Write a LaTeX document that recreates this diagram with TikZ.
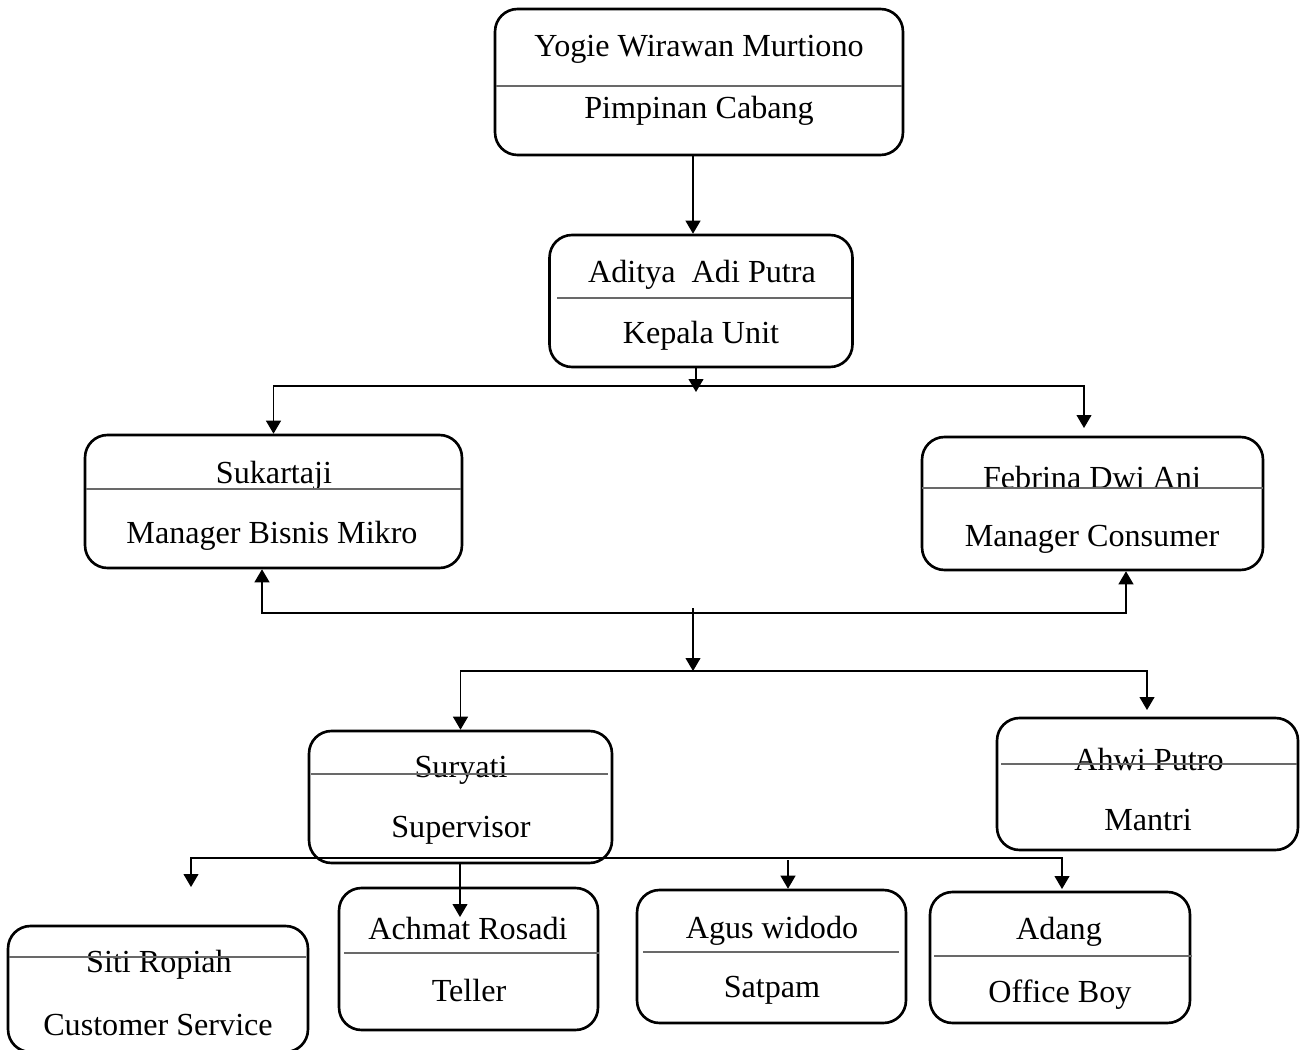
\documentclass[tikz,border=0pt]{standalone}
\usepackage{fontspec}
\setmainfont{Liberation Serif}
\usetikzlibrary{arrows.meta, positioning}
\definecolor{divgray}{RGB}{105,105,105}

\tikzset{
	unit/.style={draw, line width=1.5pt, rounded corners=0.45cm, inner sep=0pt},
	txt/.style={inner sep=0pt, yshift=-0.05cm, font=\fontsize{18.3}{21}\selectfont},
	divline/.style={draw=divgray, line width=1.3pt},
	arr/.style={-{Triangle[length=0.26cm, width=0.3cm]}, line width=0.6pt},
	bus/.style={line width=0.6pt}
}

\begin{document}
\begin{tikzpicture}[x=0.02cm, y=-0.02cm]
		\useasboundingbox (0,0) rectangle (1301,1050);
		
		% Define boxes
		\node[unit, minimum width=8.16cm, minimum height=2.92cm] (pc) at (699,82) {};
		\node[txt] (pc-n) at (699,47) {Yogie Wirawan Murtiono};
		\node[txt] (pc-j) at (699,108) {Pimpinan Cabang};
		\draw[divline] (496,86) -- (902,86);
		
		\node[unit, minimum width=6.06cm, minimum height=2.64cm] (ku) at (701,301) {};
		\node[txt] (ku-n) at (702,272) {Aditya~~Adi Putra};
		\node[txt] (ku-j) at (701,333) {Kepala Unit};
		\draw[divline] (557,298) -- (851,298);
		
		\node[unit, minimum width=7.54cm, minimum height=2.66cm] (mbm) at (273.5,501.5) {};
		\node[txt] (mbm-n) at (274,473) {Sukartaji};
		\node[txt] (mbm-j) at (272,533) {Manager Bisnis Mikro};
		\draw[divline] (86,489) -- (461,489);
		
		\node[unit, minimum width=6.82cm, minimum height=2.66cm] (mc) at (1092.5,503.5) {};
		\node[txt] (mc-n) at (1092,475) {Febrina Dwi Ani};
		\node[txt] (mc-j) at (1092,537) {Manager Consumer};
		\draw[divline] (922,488) -- (1263,488);
		
		\node[unit, minimum width=6.06cm, minimum height=2.64cm] (spv) at (460.5,797) {};
		\node[txt] (spv-n) at (461,768) {Suryati};
		\node[txt] (spv-j) at (461,828) {Supervisor};
		\draw[divline] (311,774) -- (608,774);
		
		\node[unit, minimum width=6.02cm, minimum height=2.64cm] (mtr) at (1147.5,784) {};
		\node[txt] (mtr-n) at (1149,757) {Ahwi Putro};
		\node[txt] (mtr-j) at (1148,818) {Mantri};
		\draw[divline] (1001,764) -- (1297,764);
		
		\node[unit, minimum width=6.0cm, minimum height=2.52cm] (cs) at (158,989) {};
		\node[txt] (cs-n) at (159,962) {Siti Ropiah};
		\node[txt] (cs-j) at (158,1023) {Customer Service};
		\draw[divline] (9,957) -- (306,957);
		
		\node[unit, minimum width=5.18cm, minimum height=2.84cm] (tlr) at (468.5,959) {};
		\node[txt] (tlr-n) at (468,926) {Achmat Rosadi};
		\node[txt] (tlr-j) at (469,988) {Teller};
		\draw[divline] (344,953) -- (599,953);
		
		\node[unit, minimum width=5.38cm, minimum height=2.66cm] (stp) at (771.5,956.5) {};
		\node[txt] (stp-n) at (772,928) {Agus widodo};
		\node[txt] (stp-j) at (772,988) {Satpam};
		\draw[divline] (643,952) -- (899,952);
		
		\node[unit, minimum width=5.2cm, minimum height=2.62cm] (ob) at (1060,957.5) {};
		\node[txt] (ob-n) at (1059,929) {Adang};
		\node[txt] (ob-j) at (1060,992) {Office Boy};
		\draw[divline] (934,956) -- (1192,956);
		
		% Define junctions
		\coordinate (k0) at (693,230);
		\coordinate (k1) at (696,392);
		\coordinate (bus1) at (696,386);
		\coordinate (mc-in) at (1084,428);
		\coordinate (bus2) at (693,613);
		\coordinate (k2) at (693,608);
		\coordinate (bus3) at (693,671);
		\coordinate (mtr-in) at (1147,710);
		\coordinate (bus4) at (460,858);
		\coordinate (cs-in) at (191,887);
		\coordinate (tlr-in) at (460,917);
		\coordinate (stp-top) at (788,860);
		\coordinate (ob-in) at (1062,889);
		
		% Draw connector lines
		\draw[arr] (pc.south -| k0) -- (ku.north -| k0);
		\draw[arr] (ku.south -| k1) -- (k1);
		\draw[arr] (bus1) -| (mbm.north);
		\draw[arr] (bus1) -| (mc-in);
		\draw[arr] (bus2) -| ([xshift=-0.23cm]mbm.south);
		\draw[arr] (bus2) -| ([xshift=0.67cm]mc.south);
		\draw[arr] (k2) -- (bus3);
		\draw[arr] (bus3) -| (spv.north);
		\draw[arr] (bus3) -| (mtr-in);
		\draw[arr] (bus4) -| (cs-in);
		\draw[arr] (bus4) -| (ob-in);
		\draw[arr] (spv.south -| tlr-in) -- (tlr-in);
		\draw[arr] (stp-top) -- (stp.north -| stp-top);
	\end{tikzpicture}
\end{document}
